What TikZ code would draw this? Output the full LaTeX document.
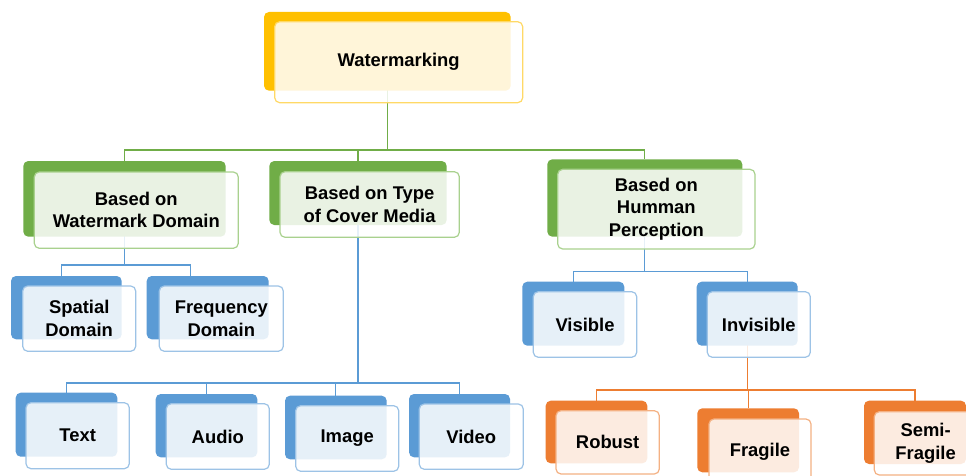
\documentclass[tikz,border=0pt]{standalone}
\usepackage{fontspec}
\setmainfont{Liberation Sans}
\usetikzlibrary{calc}
\pgfdeclarelayer{bg}
\pgfdeclarelayer{paper}
\pgfsetlayers{paper,bg,main}
\definecolor{Yd}{HTML}{FFC000}
\definecolor{Yl}{HTML}{FFD966}
\definecolor{Gd}{HTML}{70AD47}
\definecolor{Gl}{HTML}{A9D18E}
\definecolor{Bd}{HTML}{5B9BD5}
\definecolor{Bl}{HTML}{9DC3E6}
\definecolor{Od}{HTML}{ED7D31}
\definecolor{Ol}{HTML}{F4B183}
\tikzset{
  bk/.style={rectangle, rounded corners=5pt, inner sep=0pt, outer sep=0pt, fill=#1},
  fr/.style={rectangle, rounded corners=5pt, inner sep=0pt, outer sep=0pt,
    fill=white, fill opacity=0.85, text opacity=1, draw=#1, draw opacity=1,
    line width=1.2pt, align=center,
    font=\bfseries\fontsize{18.4}{22.5}\selectfont},
  gc/.style={draw=Gd, line width=1.2pt},
  bc/.style={draw=Bd, line width=1.2pt},
  oc/.style={draw=Od, line width=1.2pt}
}
\begin{document}
\begin{tikzpicture}[x=1pt,y=-1pt]
\useasboundingbox (0,0) rectangle (966,476);
\clip (0,0) rectangle (966,476);
\begin{pgfonlayer}{paper}
\fill[white] (0,0) rectangle (966,476);
\end{pgfonlayer}

% Watermarking
\node[bk=Yd, minimum width=246.7, minimum height=78.7] (wmB) at (387.35,51.35) {};
\node[fr=Yl, minimum width=248, minimum height=81] (wm) at (398.7,62.2) {Watermarking};

% level 1
\node[bk=Gd, minimum width=202.4, minimum height=75.7] (domB) at (124.5,198.85) {};
\node[fr=Gl, minimum width=204, minimum height=76.3] (dom) at (136.3,210.15) {Based on\\Watermark Domain};

\node[bk=Gd, minimum width=177.4, minimum height=64] (medB) at (358,193) {};
\node[fr=Gl, minimum width=179.3, minimum height=65.6] (med) at (369.65,204.5) {Based on Type\\of Cover Media};

\node[bk=Gd, minimum width=195, minimum height=77.4] (perB) at (644.8,198) {};
\node[fr=Gl, minimum width=197.3, minimum height=79.7] (per) at (656.35,209.15) {Based on\\Humman\\Perception};

% level 2 (domain)
\node[bk=Bd, minimum width=110.7, minimum height=63.3] (spB) at (66.35,307.65) {};
\node[fr=Bl, minimum width=113, minimum height=65.3] (sp) at (79.2,318.65) {Spatial\\Domain};

\node[bk=Bd, minimum width=122, minimum height=63.3] (fqB) at (207.7,307.65) {};
\node[fr=Bl, minimum width=124, minimum height=65.3] (fq) at (221.3,318.65) {Frequency\\Domain};

% level 2 (perception)
\node[bk=Bd, minimum width=102, minimum height=64] (visB) at (573.3,313.7) {};
\node[fr=Bl, minimum width=103.4, minimum height=65.6] (vis) at (585,324.5) {Visible};

\node[bk=Bd, minimum width=101, minimum height=64] (invB) at (747.2,313.7) {};
\node[fr=Bl, minimum width=103, minimum height=65.6] (inv) at (758.8,324.5) {Invisible};

% level 2 (media)
\node[bk=Bd, minimum width=101.6, minimum height=64] (txB) at (66.5,424.7) {};
\node[fr=Bl, minimum width=103.3, minimum height=66] (tx) at (77.65,435.7) {Text};

\node[bk=Bd, minimum width=101.6, minimum height=63.3] (auB) at (206.5,425.65) {};
\node[fr=Bl, minimum width=103, minimum height=65.6] (au) at (217.8,436.5) {Audio};

\node[bk=Bd, minimum width=101.7, minimum height=63.6] (imB) at (335.85,427.5) {};
\node[fr=Bl, minimum width=103, minimum height=65.6] (im) at (347.2,438.5) {Image};

\node[bk=Bd, minimum width=101, minimum height=63.3] (viB) at (459.5,425.65) {};
\node[fr=Bl, minimum width=104, minimum height=65.3] (vi) at (471.3,436.65) {Video};

% level 3 (invisible)
\node[bk=Od, minimum width=101.6, minimum height=62.6] (roB) at (596.5,432) {};
\node[fr=Ol, minimum width=103.3, minimum height=63.3] (ro) at (607.65,442.35) {Robust};

\node[bk=Od, minimum width=101.7, minimum height=64] (fgB) at (748.15,440.3) {};
\node[fr=Ol, minimum width=102, minimum height=65] (fg) at (760,451.5) {Fragile};

\node[bk=Od, minimum width=102, minimum height=63.3] (smB) at (915,432.35) {};
\node[fr=Ol, minimum width=102.7, minimum height=63.3] (sm) at (925.65,443.35) {Semi-\\Fragile};

% connectors
\begin{pgfonlayer}{bg}
\coordinate (b1) at (387.35,150);
\draw[gc] (wmB.center) -- (b1);
\draw[gc] (domB.north) |- (b1) -| (perB.north);
\draw[gc] (b1 -| medB.north) -- (medB.north);

\coordinate (b2) at (124.5,265);
\draw[bc] (domB.center) -- (b2);
\draw[bc] ([xshift=-4.6pt]spB.north) |- (b2) -| ([xshift=-17pt]fqB.north);

\coordinate (b3) at (358,383);
\draw[bc] (medB.center) -- (b3);
\draw[bc] (txB.north) |- (b3) -| (viB.north);
\draw[bc] (b3 -| auB.north) -- (auB.north);
\draw[bc] (b3 -| imB.north) -- (imB.north);

\coordinate (b4) at (644.8,271.7);
\draw[bc] (perB.center) -- (b4);
\draw[bc] (visB.north) |- (b4) -| (invB.north);

\coordinate (b5) at (747.2,390);
\draw[oc] (invB.center) -- (b5);
\draw[oc] (roB.north) |- (b5) -| (smB.north);
\draw[oc] (b5 -| fgB.north) -- (fgB.north);
\end{pgfonlayer}
\end{tikzpicture}
\end{document}
